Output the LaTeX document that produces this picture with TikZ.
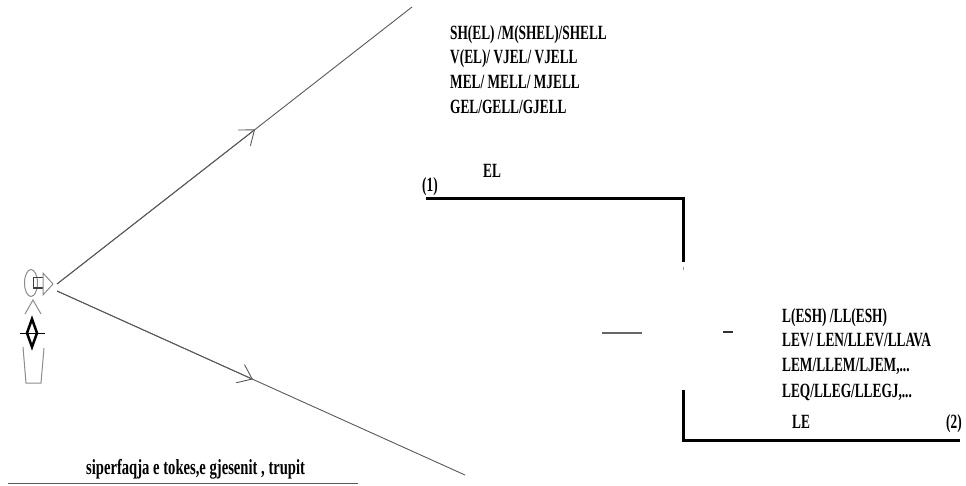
\documentclass[tikz,border=0pt]{standalone}
\usepackage{fontspec}
\setmainfont{Liberation Serif}
\newfontfamily\cond[FakeStretch=0.66]{Liberation Serif}
\newfontfamily\condb[FakeStretch=0.68]{Liberation Serif}
\usetikzlibrary{arrows.meta,calc}
\begin{document}
\begin{tikzpicture}[x=1pt,y=-1pt,
  lbl/.style={inner sep=0pt,anchor=base west,font=\cond\bfseries\fontsize{20.2}{24}\selectfont},
  botlbl/.style={inner sep=0pt,anchor=base west,font=\condb\bfseries\fontsize{21.5}{24}\selectfont},
  ray/.style={draw=black!65,line width=0.9pt},
  raytip/.style={-{Straight Barb[length=13pt,width=20pt,line width=0.9pt]}},
  wall/.style={draw=black,line width=3pt},
  fig/.style={draw=black!45,line width=1pt},
  dash1/.style={draw=black!60,line width=1.5pt},
]
\useasboundingbox (0,0) rectangle (966,486);
% rays
\coordinate (eyeU) at (57,284);
\coordinate (endU) at (412,7);
\coordinate (eyeL) at (57,291);
\coordinate (endL) at (465,475);
\draw[ray] (eyeU) -- (endU);
\draw[ray,raytip] (eyeU) -- ($(eyeU)!0.558!(endU)$);
\draw[ray] (eyeL) -- (endL);
\draw[ray,raytip] (eyeL) -- ($(eyeL)!0.48!(endL)$);
% observer
\draw[fig] (31,283) ellipse [x radius=6.5pt, y radius=13.5pt];
\draw[draw=black!75,line width=1pt] (43,278) -- (33,278) -- (33,288) -- (43,288);
\draw[fig] (43,273) -- (53,284) -- (43,295) -- cycle;
\draw[fig] (25,314) -- (33,300) -- (41,314);
\draw[black,line width=2.5pt,line join=miter] (32,319) -- (37,333) -- (32,347) -- (27,333) -- cycle;
\draw[black,line width=1pt] (20,333) -- (45,333);
\draw[fig] (23,347) -- (26,383) -- (41,383) -- (44,348);
% upper text
\node[lbl] (u1) at (450,40) {SH(EL) /M(SHEL)/SHELL};
\node[lbl] (u2) at (450,64) {V(EL)/ VJEL/ VJELL};
\node[lbl] (u3) at (450,89) {MEL/ MELL/ MJELL};
\node[lbl] (u4) at (450,114) {GEL/GELL/GJELL};
\node[lbl] (el) at (483,178) {EL};
\node[lbl] (one) at (422,192) {(1)};
% upper wall
\coordinate (w1a) at (426,199);
\coordinate (w1b) at (683,262);
\draw[wall] (w1a) -| (w1b);
\draw[draw=black!40,line width=1pt] (683,267) -- (683,270);
% dashes
\draw[dash1] (602,333) -- (642,333);
\draw[draw=black!80,line width=1.2pt] (723,332) -- (733,332);
% right text
\node[lbl] (r1) at (782,322) {L(ESH) /LL(ESH)};
\node[lbl] (r2) at (782,346) {LEV/ LEN/LLEV/LLAVA};
\node[lbl] (r3) at (782,371) {LEM/LLEM/LJEM,...};
\node[lbl] (r4) at (782,397) {LEQ/LLEG/LLEGJ,...};
\node[lbl] (le) at (792,428) {LE};
\node[lbl] (two) at (946,428) {(2)};
% lower wall
\coordinate (w2a) at (683,390);
\coordinate (w2b) at (960,440);
\draw[wall] (w2a) |- (w2b);
% ground
\node[botlbl] (gr) at (86,474) {siperfaqja e tokes,e gjesenit , trupit};
\draw[draw=black!65,line width=1pt] (8,483) -- (358,483);
\end{tikzpicture}
\end{document}
